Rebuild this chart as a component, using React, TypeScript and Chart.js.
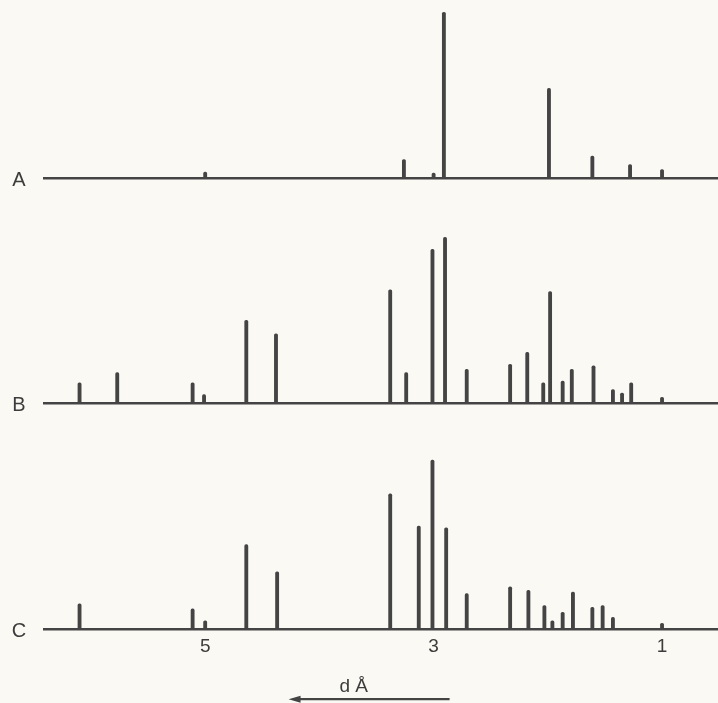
import React, { useEffect, useRef } from "react";
import { Chart, registerables } from "chart.js";

Chart.register(...registerables);

// Panel labels
const panelLabels = ["A", "B", "C"];

// Pattern A: d-spacing (Å) and relative intensity
const dA = [5.0, 3.26, 3.0, 2.91, 1.99, 1.61, 1.28, 1.0];
const iA = [3.5, 11, 3, 98, 53, 13, 8, 5];

// Pattern B
const dB = [6.1, 5.77, 5.11, 5.01, 4.64, 4.38, 3.38, 3.24, 3.01, 2.9, 2.71, 2.33, 2.18, 2.04, 1.98, 1.87, 1.79, 1.6, 1.43, 1.35, 1.27, 1.0];
const iB = [12, 18, 12, 5, 49, 41, 67, 18, 91, 98, 20, 23, 30, 12, 66, 13, 20, 22, 8, 6, 12, 3.5];

// Pattern C
const dC = [6.1, 5.11, 5.0, 4.64, 4.37, 3.38, 3.13, 3.01, 2.89, 2.71, 2.33, 2.17, 2.03, 1.96, 1.87, 1.78, 1.61, 1.52, 1.43, 1.0];
const iC = [15, 12, 5, 50, 34, 80, 61, 100, 60, 21, 25, 23, 14, 5, 10, 22, 13, 14, 7, 3.5];

// Axis ticks and title
const xTicks = [5, 3, 1];
const xTitle = "d Å";

const INK = "#444444";
const TEXT = "#3c3c3c";
const BG = "#faf9f4";

export default function App() {
  const ref = useRef<HTMLCanvasElement | null>(null);

  useEffect(() => {
    const canvas = ref.current;
    if (!canvas) return;

    const baseGrid = {
      drawTicks: false,
      lineWidth: 2.5,
      color: (c: any) => (c.tick && c.tick.value === 0 ? INK : "rgba(0,0,0,0)"),
    };
    const yAxis = (max: number, stackWeight: number, weight: number) => ({
      type: "linear" as const,
      position: "left" as const,
      stack: "panels",
      stackWeight,
      weight,
      min: 0,
      max,
      offset: false,
      ticks: { display: false, stepSize: max },
      grid: baseGrid,
      border: { display: false },
    });

    const mk = (ds: number[], is: number[], axis: string) => ({
      type: "bar" as const,
      data: ds.map((d, i) => ({ x: d, y: is[i] })),
      xAxisID: "x",
      yAxisID: axis,
      backgroundColor: INK,
      borderWidth: 0,
      barThickness: 3.2,
      grouped: false,
      borderRadius: { topLeft: 1.6, topRight: 1.6, bottomLeft: 0, bottomRight: 0 },
      borderSkipped: "start",
    });

    const decor = {
      id: "decor",
      beforeDraw(chart: any) {
        const { ctx, width, height } = chart;
        ctx.save();
        ctx.fillStyle = BG;
        ctx.fillRect(0, 0, width, height);
        ctx.restore();
      },
      afterDraw(chart: any) {
        const { ctx } = chart;
        const xs = chart.scales.x;
        ctx.save();
        ctx.fillStyle = TEXT;
        ctx.font = "20px 'Liberation Sans', Arial, sans-serif";
        ctx.textAlign = "center";
        ctx.textBaseline = "middle";
        ["yA", "yB", "yC"].forEach((id, k) => {
          const y = chart.scales[id].getPixelForValue(0);
          ctx.fillText(panelLabels[k], 19, y + 2);
        });
        // axis title with arrow
        const bottom = chart.chartArea.bottom;
        ctx.font = "19px 'Liberation Sans', Arial, sans-serif";
        ctx.textBaseline = "alphabetic";
        ctx.fillText(xTitle, xs.getPixelForValue(3.7), bottom + 63);
        const x1 = xs.getPixelForValue(4.27);
        const x2 = xs.getPixelForValue(2.86);
        const ya = bottom + 70;
        ctx.strokeStyle = INK;
        ctx.lineWidth = 2.2;
        ctx.beginPath();
        ctx.moveTo(x1 + 6, ya);
        ctx.lineTo(x2, ya);
        ctx.stroke();
        ctx.fillStyle = INK;
        ctx.beginPath();
        ctx.moveTo(x1, ya);
        ctx.lineTo(x1 + 12, ya - 3.5);
        ctx.lineTo(x1 + 12, ya + 3.5);
        ctx.closePath();
        ctx.fill();
        ctx.restore();
      },
    };

    const chart = new Chart(canvas, {
      type: "bar",
      data: {
        datasets: [mk(dA, iA, "yA"), mk(dB, iB, "yB"), mk(dC, iC, "yC")] as any,
      },
      options: {
        responsive: false,
        animation: false,
        events: [],
        layout: { padding: { left: 43, right: 0, top: 0, bottom: 39 } },
        plugins: { legend: { display: false }, tooltip: { enabled: false } },
        scales: {
          x: {
            type: "linear",
            position: "bottom",
            reverse: true,
            offset: false,
            min: 0.51,
            max: 6.42,
            grid: { display: false, drawTicks: false, offset: false },
            border: { display: false },
            afterBuildTicks: (s: any) => {
              s.ticks = xTicks.map((v) => ({ value: v }));
            },
            ticks: {
              autoSkip: false,
              maxRotation: 0,
              padding: 6,
              color: TEXT,
              font: { size: 19, family: "'Liberation Sans', Arial, sans-serif" },
              callback: (v: any) => String(v),
            },
          },
          yA: yAxis(105.3, 178, 3),
          yB: yAxis(133.1, 225, 2),
          yC: yAxis(133.7, 226, 1),
        } as any,
      },
      plugins: [decor],
    });
    return () => chart.destroy();
  }, []);

  return (
    <div style={{ position: "absolute", left: 0, top: 0, width: 718, height: 703, background: BG }}>
      <canvas ref={ref} width={718} height={703} style={{ display: "block" }} />
    </div>
  );
}
